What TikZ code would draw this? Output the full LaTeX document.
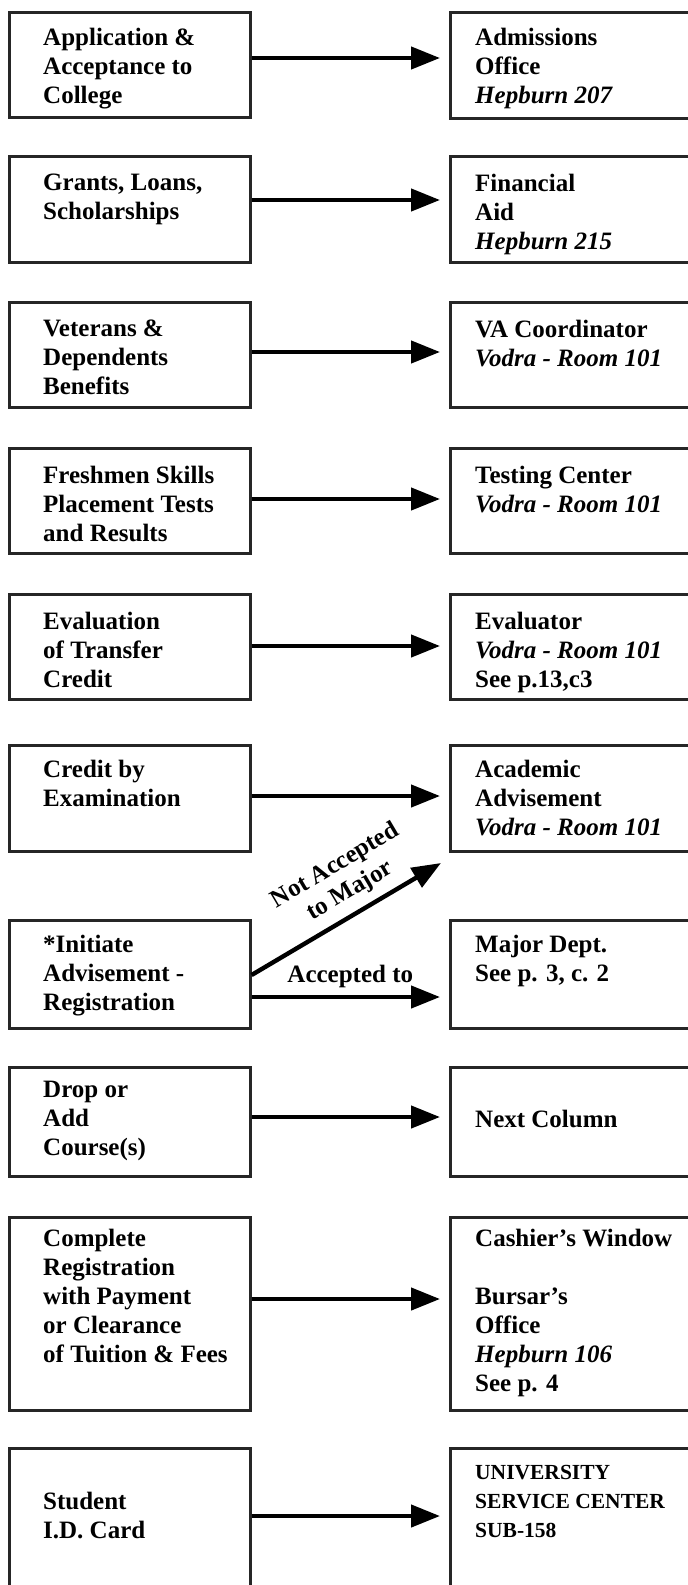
\documentclass[tikz,border=0pt]{standalone}
\usepackage{fontspec}
\setmainfont{Liberation Serif}
\usepackage{tikz}
\usetikzlibrary{arrows.meta}
\newcommand{\roomtxt}[1]{{\itshape #1}}

\begin{document}
\begin{tikzpicture}[x=1pt, y=-1pt,
  lbox/.style={draw=black!85, line width=2.6pt, minimum width=241pt, anchor=north west, inner sep=0pt},
  rbox/.style={lbox, minimum width=262pt},
  txt/.style={anchor=north west, inner sep=0pt, align=left, font=\fontsize{25}{29}\selectfont\bfseries},
  arr/.style={line width=4.4pt, -{Triangle[length=29pt,width=22pt]}, shorten >=9pt}]
\useasboundingbox (0,0) rectangle (688,1585);
\clip (0,0) rectangle (688,1585);
% row 1
\node[lbox, minimum height=105pt] (app) at (8,11) {};
\node[rbox, minimum height=106pt] (adm) at (449,11) {};
\node[txt] (appt) at ([shift={(35,17)}]app.north west) {Application \&\\Acceptance to\\College};
\node[txt] (admt) at ([shift={(26,17)}]adm.north west) {Admissions\\Office\\\roomtxt{Hepburn 207}};
\draw[arr] ([yshift=-47pt]app.north east) -- ([yshift=-47pt]adm.north west);
% row 2
\node[lbox, minimum height=106pt] (gra) at (8,155) {};
\node[rbox, minimum height=106pt] (fin) at (449,155) {};
\node[txt] (grat) at ([shift={(35,19)}]gra.north west) {Grants, Loans,\\Scholarships};
\node[txt] (fint) at ([shift={(26,19)}]fin.north west) {Financial\\Aid\\\roomtxt{Hepburn 215}};
\draw[arr] ([yshift=-45pt]gra.north east) -- ([yshift=-45pt]fin.north west);
% row 3
\node[lbox, minimum height=105pt] (vet) at (8,301) {};
\node[rbox, minimum height=105pt] (vac) at (449,301) {};
\node[txt] (vett) at ([shift={(35,19)}]vet.north west) {Veterans \&\\Dependents\\Benefits};
\node[txt] (vact) at ([shift={(26,19)}]vac.north west) {VA Coordinator\\\roomtxt{Vodra - Room 101}};
\draw[arr] ([yshift=-51pt]vet.north east) -- ([yshift=-51pt]vac.north west);
% row 4
\node[lbox, minimum height=105pt] (fre) at (8,447) {};
\node[rbox, minimum height=105pt] (tes) at (449,447) {};
\node[txt] (fret) at ([shift={(35,19)}]fre.north west) {Freshmen Skills\\Placement Tests\\and Results};
\node[txt] (test) at ([shift={(26,19)}]tes.north west) {Testing Center\\\roomtxt{Vodra - Room 101}};
\draw[arr] ([yshift=-52pt]fre.north east) -- ([yshift=-52pt]tes.north west);
% row 5
\node[lbox, minimum height=105pt] (eva) at (8,593) {};
\node[rbox, minimum height=105pt] (evr) at (449,593) {};
\node[txt] (evat) at ([shift={(35,19)}]eva.north west) {Evaluation\\of Transfer\\Credit};
\node[txt] (evrt) at ([shift={(26,19)}]evr.north west) {Evaluator\\\roomtxt{Vodra - Room 101}\\See p.13,c3};
\draw[arr] ([yshift=-53pt]eva.north east) -- ([yshift=-53pt]evr.north west);
% row 6
\node[lbox, minimum height=106pt] (cre) at (8,744) {};
\node[rbox, minimum height=106pt] (aca) at (449,744) {};
\node[txt] (cret) at ([shift={(35,16)}]cre.north west) {Credit by\\Examination};
\node[txt] (acat) at ([shift={(26,16)}]aca.north west) {Academic\\Advisement\\\roomtxt{Vodra - Room 101}};
\draw[arr] ([yshift=-52pt]cre.north east) -- ([yshift=-52pt]aca.north west);
% row 7
\node[lbox, minimum height=108pt] (ini) at (8,919) {};
\node[rbox, minimum height=108pt] (maj) at (449,919) {};
\node[txt] (init) at ([shift={(35,16)}]ini.north west) {*Initiate\\Advisement -\\Registration};
\node[txt] (majt) at ([shift={(26,16)}]maj.north west) {Major Dept.\\See p. 3, c. 2};
\coordinate (notmaj) at (441,863);
\draw[arr, shorten >=0pt] ([yshift=-56pt]ini.north east) -- (notmaj)
  node[pos=0.58, sloped, above=5pt, align=center, font=\fontsize{25}{29}\selectfont\bfseries] (notl) {Not Accepted\\to Major};
\draw[arr] ([yshift=-78pt]ini.north east) -- ([yshift=-78pt]maj.north west)
  node[midway, above=4pt, font=\fontsize{25}{29}\selectfont\bfseries] (accl) {Accepted to};
% row 8
\node[lbox, minimum height=109pt] (dro) at (8,1066) {};
\node[rbox, minimum height=109pt] (nex) at (449,1066) {};
\node[txt] (drot) at ([shift={(35,15)}]dro.north west) {Drop or\\Add\\Course(s)};
\node[txt] (next) at ([shift={(26,44)}]nex.north west) {Next Column};
\draw[arr] ([yshift=-51pt]dro.north east) -- ([yshift=-51pt]nex.north west);
% row 9
\node[lbox, minimum height=193pt] (com) at (8,1216) {};
\node[rbox, minimum height=193pt] (cas) at (449,1216) {};
\node[txt] (comt) at ([shift={(35,13)}]com.north west) {Complete\\Registration\\with Payment\\or Clearance\\of Tuition \& Fees};
\node[txt] (cast) at ([shift={(26,13)}]cas.north west) {Cashier's Window\\[29pt]Bursar's\\Office\\\roomtxt{Hepburn 106}\\See p. 4};
\draw[arr] ([yshift=-83pt]com.north east) -- ([yshift=-83pt]cas.north west);
% row 10
\node[lbox, minimum height=200pt] (stu) at (8,1447) {};
\node[rbox, minimum height=200pt] (usc) at (449,1447) {};
\node[txt] (stut) at ([shift={(35,45)}]stu.north west) {Student\\I.D. Card};
\node[txt, font=\fontsize{21.5}{29}\selectfont\bfseries] (usct) at ([shift={(26,18)}]usc.north west) {UNIVERSITY\\SERVICE CENTER\\SUB-158};
\draw[arr] ([yshift=-69pt]stu.north east) -- ([yshift=-69pt]usc.north west);
\end{tikzpicture}
\end{document}
